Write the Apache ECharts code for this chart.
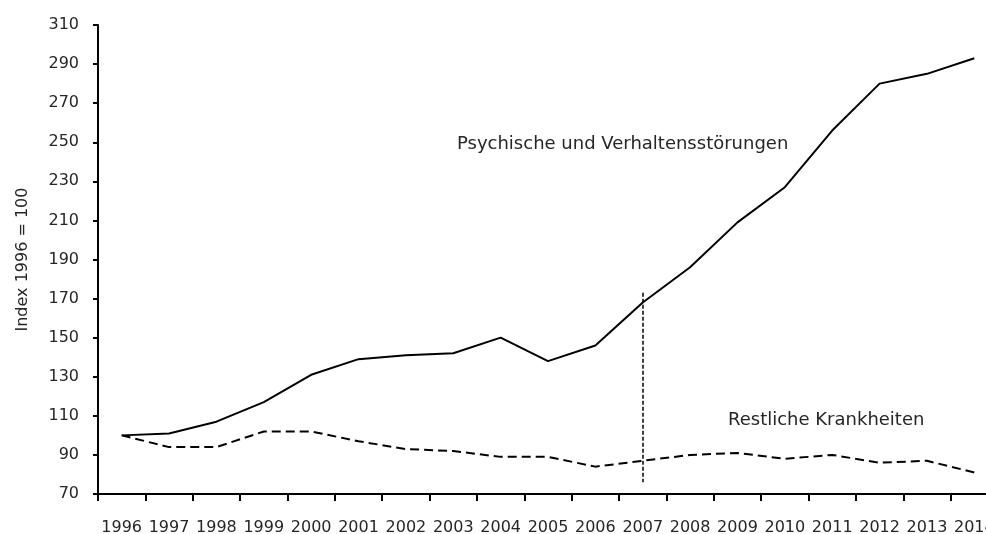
<!DOCTYPE html>
<html>
<head>
<meta charset="utf-8">
<script src="https://cdn.jsdelivr.net/npm/echarts@6/dist/echarts.min.js"></script>
<style>
  html, body { margin: 0; padding: 0; background: #fff; }
  #chart { width: 986px; height: 534px; }
</style>
</head>
<body>
<div id="chart"></div>
<script>
// Years on the x axis
const years = ["1996", "1997", "1998", "1999", "2000", "2001", "2002", "2003", "2004", "2005",
               "2006", "2007", "2008", "2009", "2010", "2011", "2012", "2013", "2014"];

// Index 1996 = 100
const psychisch = [100, 101, 107, 117, 131, 139, 141, 142, 150, 138,
                   146, 168, 186, 209, 227, 256, 280, 285, 293];
const restlich = [100, 94, 94, 102, 102, 97, 93, 92, 89, 89,
                  84, 87, 90, 91, 88, 90, 86, 87, 81];

// Vertical marker at 2007
const markerYear = "2007";
const markerRange = [173, 76];

const font = "DejaVu Sans";
const textColor = "#262626";

const chart = echarts.init(document.getElementById("chart"));

chart.setOption({
    animation: false,
    grid: { left: 98, right: -12, top: 25, bottom: 40, containLabel: false, outerBoundsMode: "none" },
    xAxis: {
        type: "category",
        data: years,
        boundaryGap: true,
        axisLine: { lineStyle: { color: "#000", width: 2 } },
        axisTick: { show: true, length: 7, lineStyle: { color: "#000", width: 2 } },
        axisLabel: { interval: 0, margin: 26, color: textColor, fontSize: 16, fontFamily: font, hideOverlap: false },
        splitLine: { show: false },
    },
    yAxis: {
        type: "value",
        min: 70,
        max: 310,
        interval: 20,
        name: "Index 1996 = 100",
        nameLocation: "middle",
        nameGap: 67,
        nameRotate: 90,
        nameTextStyle: { color: textColor, fontSize: 16, fontFamily: font },
        axisLine: { show: true, lineStyle: { color: "#000", width: 2 } },
        axisTick: { show: true, length: 5, lineStyle: { color: "#000", width: 2 } },
        axisLabel: { margin: 19, color: textColor, fontSize: 16, fontFamily: font },
        splitLine: { show: false },
    },
    series: [
        {
            name: "Psychische und Verhaltensstörungen",
            type: "line",
            data: psychisch,
            symbol: "none",
            lineStyle: { color: "#000", width: 2 },
        },
        {
            name: "Restliche Krankheiten",
            type: "line",
            data: restlich,
            symbol: "none",
            lineStyle: { color: "#000", width: 2, type: [9, 5] },
            markLine: {
                silent: true,
                symbol: ["none", "none"],
                label: { show: false },
                lineStyle: { color: "#000", width: 1.5, type: [4, 2] },
                data: [[
                    { coord: [markerYear, markerRange[0]] },
                    { coord: [markerYear, markerRange[1]] },
                ]],
            },
        },
    ],
    graphic: [
        {
            type: "text",
            left: 457,
            top: 135,
            style: { text: "Psychische und Verhaltensstörungen", fill: textColor, fontSize: 18, fontFamily: font },
        },
        {
            type: "text",
            left: 728,
            top: 411,
            style: { text: "Restliche Krankheiten", fill: textColor, fontSize: 18, fontFamily: font },
        },
    ],
});
</script>
</body>
</html>
